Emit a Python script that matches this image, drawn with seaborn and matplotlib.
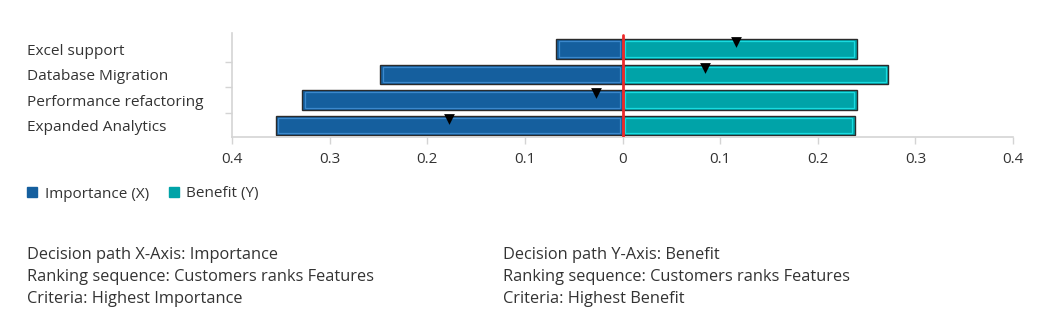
import matplotlib
matplotlib.use("Agg")
import matplotlib.pyplot as plt
from matplotlib.patches import Patch
from matplotlib.ticker import FixedLocator, FuncFormatter
import numpy as np
import pandas as pd
import seaborn as sns

# Features and their scores
features = ["Excel support", "Database Migration", "Performance refactoring", "Expanded Analytics"]
importance = [0.068, 0.248, 0.328, 0.355]
benefit = [0.240, 0.272, 0.240, 0.238]
# Decision marker positions (negative = importance side, positive = benefit side)
decision = [0.116, 0.085, -0.027, -0.178]

x_ticks = [-0.4, -0.3, -0.2, -0.1, 0, 0.1, 0.2, 0.3, 0.4]

info_left = ["Decision path X-Axis: Importance",
             "Ranking sequence: Customers ranks Features",
             "Criteria: Highest Importance"]
info_right = ["Decision path Y-Axis: Benefit",
              "Ranking sequence: Customers ranks Features",
              "Criteria: Highest Benefit"]

imp_color = "#155f9e"
ben_color = "#00a3a8"
imp_inner = "#3b88cc"
ben_inner = "#19dbe0"
edge_dark = "#2b2b2b"
text_color = "#333333"
axis_gray = "#d4d4d4"

sns.set_theme(style="white")
plt.rcParams["font.family"] = ["Open Sans", "DejaVu Sans"]

df = pd.DataFrame({
    "feature": features,
    "imp": [-v for v in importance],
    "ben": benefit,
    "decision": decision,
})

W, H = 1041, 333
fig = plt.figure(figsize=(W / 100, H / 100), dpi=100)
ax = fig.add_axes([232 / W, 1 - 137 / H, (1013 - 232) / W, (137 - 33) / H])

# Outer bars with dark outline
sns.barplot(data=df, x="imp", y="feature", orient="h", color=imp_color,
            width=0.75, edgecolor=edge_dark, linewidth=1.0, saturation=1, ax=ax)
sns.barplot(data=df, x="ben", y="feature", orient="h", color=ben_color,
            width=0.75, edgecolor=edge_dark, linewidth=1.0, saturation=1, ax=ax)

# Inner light border inside each bar
n = len(features)
for i, p in enumerate(list(ax.patches)):
    inner_col = imp_inner if i < n else ben_inner
    x0, y0 = p.get_x(), p.get_y()
    w, h = p.get_width(), p.get_height()
    sign = 1 if w >= 0 else -1
    dx = 0.0025
    dy = 0.07
    ax.add_patch(plt.Rectangle((x0 + sign * dx, y0 + dy), w - sign * 2 * dx, h - 2 * dy,
                               fill=False, edgecolor=inner_col, linewidth=0.9, zorder=3))

# Decision markers on top edge of the bars
df["marker_y"] = np.arange(n) - 0.27
sns.scatterplot(data=df, x="decision", y="marker_y", marker="v", color="black",
                s=60, edgecolor="black", linewidth=0, zorder=5, ax=ax, legend=False)

ax.axvline(0, ymin=0, ymax=0.98, color="#ee2a2a", linewidth=2, zorder=6)

ax.set_xlim(-0.4, 0.4)
ax.set_ylim(3.45, -0.63)
ax.xaxis.set_major_locator(FixedLocator(x_ticks))
ax.xaxis.set_major_formatter(FuncFormatter(lambda v, _: "0" if abs(v) < 1e-9 else f"{abs(v):g}"))
ax.set_xlabel("")
ax.set_ylabel("")

ax.set_yticks(range(n))
ax.set_yticklabels(features, ha="left")
ax.tick_params(axis="y", which="major", length=0, pad=(232 - 27) * 0.72,
               labelsize=11.1, labelcolor=text_color)
ax.set_yticks([0.5, 1.5, 2.5], minor=True)
ax.tick_params(axis="y", which="minor", length=5, width=1, color=axis_gray, left=True)
ax.tick_params(axis="x", length=5, width=1, color=axis_gray, bottom=True,
               labelsize=11, labelcolor=text_color, pad=6)

for side in ["top", "right"]:
    ax.spines[side].set_visible(False)
for side in ["left", "bottom"]:
    ax.spines[side].set_color(axis_gray)
    ax.spines[side].set_linewidth(1.2)

# Legend
handles = [Patch(facecolor=imp_color, edgecolor=imp_color, label="Importance (X)"),
           Patch(facecolor=ben_color, edgecolor=ben_color, label="Benefit (Y)")]
fig.legend(handles=handles, loc="center left", bbox_to_anchor=(21 / W, 1 - 194 / H),
           ncol=2, frameon=False, fontsize=11, handlelength=0.65, handleheight=0.65,
           handletextpad=0.5, columnspacing=1.3, borderaxespad=0, labelcolor=text_color)

# Summary text
for k, (l, r) in enumerate(zip(info_left, info_right)):
    y = 1 - (255 + 22 * k) / H
    fig.text(27 / W, y, l, fontsize=11.75, color=text_color, va="center", ha="left")
    fig.text(503 / W, y, r, fontsize=11.75, color=text_color, va="center", ha="left")

fig.savefig("out.png", dpi=100, facecolor="white")
